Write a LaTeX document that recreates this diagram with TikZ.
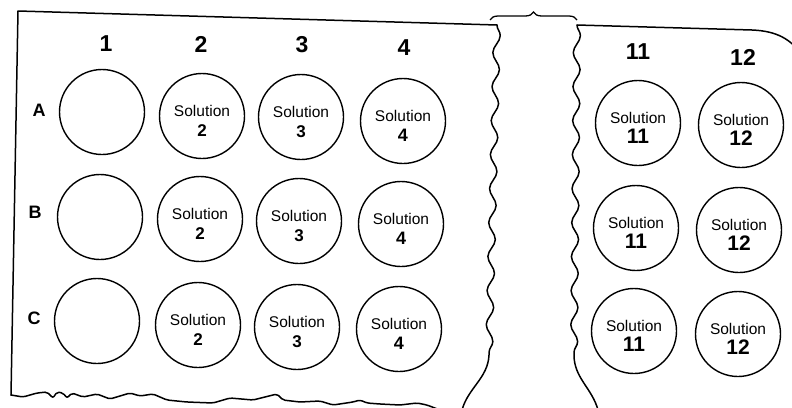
\documentclass[tikz,border=0pt]{standalone}
\usepackage{fontspec}
\setmainfont{Liberation Sans}
\usetikzlibrary{decorations.pathmorphing,decorations.pathreplacing}

\begin{document}
\begin{tikzpicture}[
x=1pt, y=-1pt,
well/.style={circle, draw, line width=1.4pt, minimum size=85pt, inner sep=0pt},
welltext/.style={align=center, font=\fontsize{15.5}{20}\selectfont},
colhead/.style={font=\bfseries\fontsize{23}{23}\selectfont},
rowhead/.style={font=\bfseries\fontsize{18}{18}\selectfont},
edge/.style={line width=1.5pt, line join=round, line cap=round},
tear/.style={decoration={snake, segment length=34pt, amplitude=3.5pt}}
]
\clip (0,0) rectangle (792,407);

% plate outline, left piece
\draw[edge] (497,25) -- (18,11) -- (11,395);
\draw[edge, rounded corners=2pt] (11,395) -- (23,397) -- (37,393) -- (47,392) -- (53,398)
  -- (57,392) -- (63,393) -- (67,398) -- (72,393) -- (83,397) -- (97,394) -- (110,399)
  -- (130,393) -- (140,396) -- (153,394) -- (167,400) -- (187,402) -- (213,403)
  -- (230,398) -- (253,400) -- (277,394) -- (283,400) -- (300,402) -- (320,401)
  -- (333,405) -- (353,402) -- (360,400) -- (367,403) -- (380,404) -- (400,405)
  -- (417,403) -- (427,405) -- (440,410);
\draw[edge] decorate[tear]{(497,25) -- (489,355)} .. controls (488,378) and (468,388) .. (462,410);

% plate outline, right piece
\draw[edge] decorate[tear]{(577,25) -- (574,355)} .. controls (574,378) and (592,388) .. (598,410);
\draw[edge] (577,25) -- (752,30) .. controls (778,31) and (790,40) .. (800,52);

% gap brace
\draw[line width=1.3pt, decorate, decoration={brace, amplitude=8pt}] (490,20) -- (577,20);

% column labels
\node[colhead] (c1) at (106,44) {1};
\node[colhead] (c2) at (201,44) {2};
\node[colhead] (c3) at (302,45) {3};
\node[colhead] (c4) at (404,48) {4};
\node[colhead] (c11) at (638,52) {11};
\node[colhead] (c12) at (743,57) {12};

% row labels
\node[rowhead] (rA) at (39,110) {A};
\node[rowhead] (rB) at (35,212) {B};
\node[rowhead] (rC) at (34,318) {C};

% wells, row A
\node[well] (A1) at (102,112) {};
\node[well] (A2) at (202,116) {};
\node[well] (A3) at (301,117) {};
\node[well] (A4) at (403,121) {};
\node[well] (A11) at (638,123) {};
\node[well] (A12) at (741,125) {};

% wells, row B
\node[well] (B1) at (100,217) {};
\node[well] (B2) at (200,219) {};
\node[well] (B3) at (299,221) {};
\node[well] (B4) at (401,224) {};
\node[well] (B11) at (636,228) {};
\node[well] (B12) at (739,230) {};

% wells, row C
\node[well] (C1) at (97,321) {};
\node[well] (C2) at (198,325) {};
\node[well] (C3) at (297,327) {};
\node[well] (C4) at (399,329) {};
\node[well] (C11) at (634,331) {};
\node[well] (C12) at (738,334) {};

% well contents
\node[welltext] (sA2) at ([yshift=-5pt]A2.center) {Solution\\{\bfseries\fontsize{17}{20}\selectfont 2}};
\node[welltext] (sA3) at ([yshift=-5pt]A3.center) {Solution\\{\bfseries\fontsize{17}{20}\selectfont 3}};
\node[welltext] (sA4) at ([yshift=-5pt]A4.center) {Solution\\{\bfseries\fontsize{18}{20}\selectfont 4}};
\node[welltext] (sA11) at ([yshift=-5pt]A11.center) {Solution\\{\bfseries\fontsize{21}{20}\selectfont 11}};
\node[welltext] (sA12) at ([yshift=-5pt]A12.center) {Solution\\{\bfseries\fontsize{21}{20}\selectfont 12}};

\node[welltext] (sB2) at ([yshift=-5pt]B2.center) {Solution\\{\bfseries\fontsize{17}{20}\selectfont 2}};
\node[welltext] (sB3) at ([yshift=-5pt]B3.center) {Solution\\{\bfseries\fontsize{17}{20}\selectfont 3}};
\node[welltext] (sB4) at ([yshift=-5pt]B4.center) {Solution\\{\bfseries\fontsize{18}{20}\selectfont 4}};
\node[welltext] (sB11) at ([yshift=-5pt]B11.center) {Solution\\{\bfseries\fontsize{21}{20}\selectfont 11}};
\node[welltext] (sB12) at ([yshift=-5pt]B12.center) {Solution\\{\bfseries\fontsize{21}{20}\selectfont 12}};

\node[welltext] (sC2) at ([yshift=-5pt]C2.center) {Solution\\{\bfseries\fontsize{17}{20}\selectfont 2}};
\node[welltext] (sC3) at ([yshift=-5pt]C3.center) {Solution\\{\bfseries\fontsize{17}{20}\selectfont 3}};
\node[welltext] (sC4) at ([yshift=-5pt]C4.center) {Solution\\{\bfseries\fontsize{18}{20}\selectfont 4}};
\node[welltext] (sC11) at ([yshift=-5pt]C11.center) {Solution\\{\bfseries\fontsize{21}{20}\selectfont 11}};
\node[welltext] (sC12) at ([yshift=-5pt]C12.center) {Solution\\{\bfseries\fontsize{21}{20}\selectfont 12}};

\end{tikzpicture}
\end{document}
